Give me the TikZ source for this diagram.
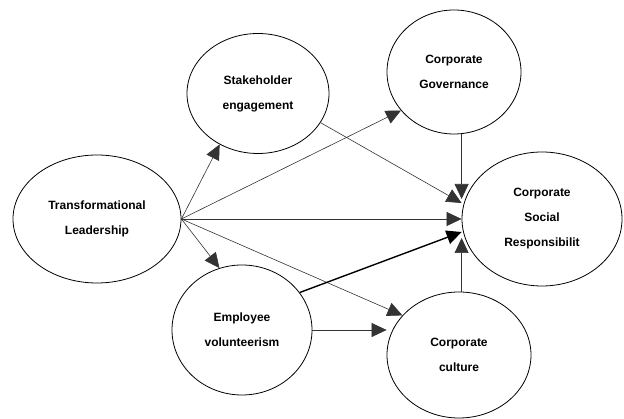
\documentclass[tikz,border=0pt]{standalone}
\usepackage{fontspec}
\setmainfont{Liberation Sans}
\usetikzlibrary{shapes.geometric,arrows.meta}
\begin{document}
\begin{tikzpicture}[x=1pt,y=1pt,
  circ/.style={draw=black,line width=0.8pt,ellipse,inner sep=0pt,align=center,
    font=\fontsize{12}{25}\selectfont\bfseries},
  arr/.style={draw=black!80,line width=0.6pt,-{Triangle[length=15pt,width=14pt]}},
  thickarr/.style={arr,draw=black,line width=1.4pt}]
\useasboundingbox (0,0) rectangle (624,419);
\node[circ,minimum width=168pt,minimum height=128pt] (TL) at (97,200) {Transformational\\Leadership};
\node[circ,minimum width=142pt,minimum height=120pt] (SE) at (258,325.5) {Stakeholder\\engagement};
\node[circ,minimum width=134pt,minimum height=124pt] (CG) at (454,347) {Corporate\\Governance};
\node[circ,minimum width=160pt,minimum height=134pt] (CSR) at (542,200) {Corporate\\Social\\Responsibilit};
\node[circ,minimum width=140pt,minimum height=130pt] (EV) at (242,89) {Employee\\volunteerism};
\node[circ,minimum width=144pt,minimum height=126pt] (CC) at (459,64) {Corporate\\culture};

\draw[arr] (TL.east) -- (SE.233);
\draw[arr] (TL.east) -- (CG.216);
\draw[arr] (TL.east) -- (CSR.west);
\draw[arr] (TL.east) -- (EV.110);
\draw[arr] (TL.east) -- (CC.145);
\draw[arr] (SE.335) -- ([yshift=16pt]CSR.west);
\draw[arr] (CG.south -| CSR.west) -- ([yshift=20pt]CSR.west);
\draw[thickarr] (EV.33) -- ([yshift=-13pt]CSR.west);
\draw[arr] (EV.east) -- (EV.east -| CC.west);
\draw[arr] (CC.north -| CSR.west) -- ([yshift=-19pt]CSR.west);
\end{tikzpicture}
\end{document}
